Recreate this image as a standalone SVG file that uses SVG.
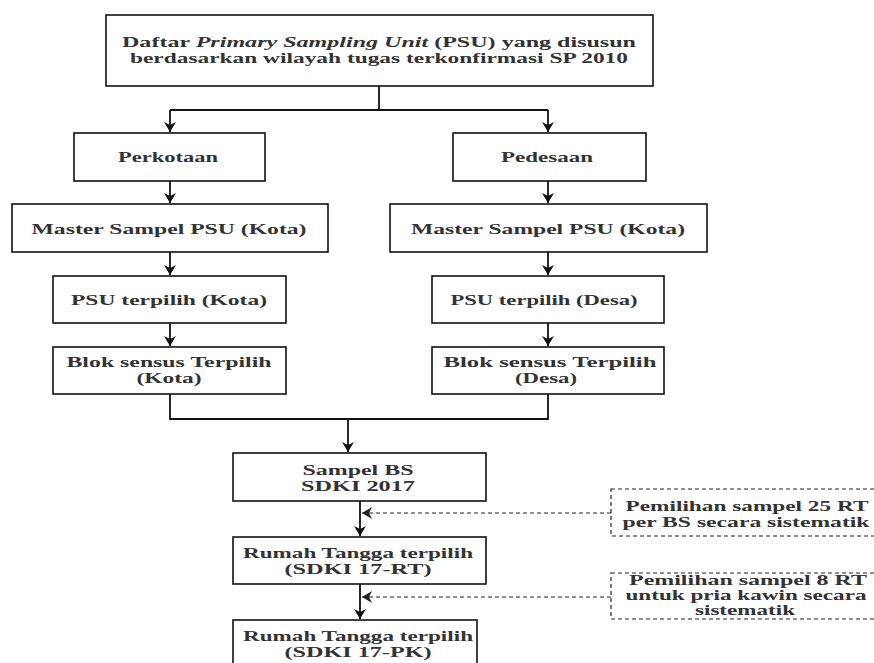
<svg xmlns="http://www.w3.org/2000/svg" width="874" height="663" viewBox="0 0 874 663">
<style>
.box{fill:#fff;stroke:#111;stroke-width:1.6}
.dbox{fill:#fff;stroke:#222;stroke-width:1.2;stroke-dasharray:4 3}
.t{font-family:"Liberation Serif","Times New Roman",serif;font-size:15px;font-weight:bold;fill:#333;text-anchor:middle}
.ln{fill:none;stroke:#111;stroke-width:1.8}
.dl{fill:none;stroke:#222;stroke-width:1.2;stroke-dasharray:4 3}
</style>
<defs>
<marker id="ah" markerWidth="12" markerHeight="12" refX="10" refY="6" orient="auto" markerUnits="userSpaceOnUse">
<path d="M0,0 L10,6 L0,12 L3,6 Z" fill="#111"/>
</marker>
<marker id="dah" markerWidth="12" markerHeight="12" refX="10" refY="6" orient="auto" markerUnits="userSpaceOnUse">
<path d="M0,0 L10,6 L0,12 L3,6 Z" fill="#222"/>
</marker>
</defs>
<rect width="874" height="663" fill="#fff"/>
<g id="connectors">
<path class="ln" d="M379,86 V110 M170,110 H548"/>
<path class="ln" d="M170,110 V132" marker-end="url(#ah)"/>
<path class="ln" d="M548,110 V132" marker-end="url(#ah)"/>
<path class="ln" d="M170,181 V203" marker-end="url(#ah)"/>
<path class="ln" d="M548,181 V203" marker-end="url(#ah)"/>
<path class="ln" d="M170,252 V275" marker-end="url(#ah)"/>
<path class="ln" d="M548,252 V275" marker-end="url(#ah)"/>
<path class="ln" d="M170,323 V346" marker-end="url(#ah)"/>
<path class="ln" d="M548,323 V346" marker-end="url(#ah)"/>
<path class="ln" d="M170,394 V419 H548 V394"/>
<path class="ln" d="M348,419 V452" marker-end="url(#ah)"/>
<path class="ln" d="M360,501 V536" marker-end="url(#ah)"/>
<path class="ln" d="M360,584 V619" marker-end="url(#ah)"/>
<path class="dl" d="M611,513 H362" marker-end="url(#dah)"/>
<path class="dl" d="M611,597 H362" marker-end="url(#dah)"/>
</g>
<g id="n-psu-list">
<rect class="box" x="106" y="15" width="547" height="71"/>
<text class="t" x="379" y="47" textLength="514" lengthAdjust="spacingAndGlyphs">Daftar <tspan font-style="italic">Primary Sampling Unit</tspan> (PSU) yang disusun</text>
<text class="t" x="379" y="63" textLength="498" lengthAdjust="spacingAndGlyphs">berdasarkan wilayah tugas terkonfirmasi SP 2010</text>
</g>
<g id="n-perkotaan">
<rect class="box" x="74" y="133" width="191" height="48"/>
<text class="t" x="168" y="162" textLength="100" lengthAdjust="spacingAndGlyphs">Perkotaan</text>
</g>
<g id="n-pedesaan">
<rect class="box" x="453" y="133" width="193" height="48"/>
<text class="t" x="547" y="162" textLength="92" lengthAdjust="spacingAndGlyphs">Pedesaan</text>
</g>
<g id="n-master-kota">
<rect class="box" x="12" y="204" width="316" height="48"/>
<text class="t" x="169" y="234" textLength="275" lengthAdjust="spacingAndGlyphs">Master Sampel PSU (Kota)</text>
</g>
<g id="n-master-desa">
<rect class="box" x="390" y="204" width="317" height="48"/>
<text class="t" x="548" y="234" textLength="274" lengthAdjust="spacingAndGlyphs">Master Sampel PSU (Kota)</text>
</g>
<g id="n-psu-kota">
<rect class="box" x="53" y="276" width="233" height="47"/>
<text class="t" x="169" y="305" textLength="196" lengthAdjust="spacingAndGlyphs">PSU terpilih (Kota)</text>
</g>
<g id="n-psu-desa">
<rect class="box" x="432" y="276" width="232" height="47"/>
<text class="t" x="544" y="305" textLength="187" lengthAdjust="spacingAndGlyphs">PSU terpilih (Desa)</text>
</g>
<g id="n-blok-kota">
<rect class="box" x="53" y="347" width="233" height="47"/>
<text class="t" x="169" y="367" textLength="205" lengthAdjust="spacingAndGlyphs">Blok sensus Terpilih</text>
<text class="t" x="169" y="383" textLength="65" lengthAdjust="spacingAndGlyphs">(Kota)</text>
</g>
<g id="n-blok-desa">
<rect class="box" x="432" y="347" width="232" height="47"/>
<text class="t" x="550" y="367" textLength="213" lengthAdjust="spacingAndGlyphs">Blok sensus Terpilih</text>
<text class="t" x="546" y="383" textLength="62" lengthAdjust="spacingAndGlyphs">(Desa)</text>
</g>
<g id="n-sampel-bs">
<rect class="box" x="233" y="453" width="253" height="48"/>
<text class="t" x="358" y="475" textLength="111" lengthAdjust="spacingAndGlyphs">Sampel BS</text>
<text class="t" x="358" y="491" textLength="114" lengthAdjust="spacingAndGlyphs">SDKI 2017</text>
</g>
<g id="n-rt">
<rect class="box" x="233" y="537" width="253" height="47"/>
<text class="t" x="358" y="558" textLength="230" lengthAdjust="spacingAndGlyphs">Rumah Tangga terpilih</text>
<text class="t" x="358" y="574" textLength="147" lengthAdjust="spacingAndGlyphs">(SDKI 17-RT)</text>
</g>
<g id="n-pk">
<rect class="box" x="233" y="620" width="244" height="60"/>
<text class="t" x="358" y="641" textLength="230" lengthAdjust="spacingAndGlyphs">Rumah Tangga terpilih</text>
<text class="t" x="358" y="657" textLength="147" lengthAdjust="spacingAndGlyphs">(SDKI 17-PK)</text>
</g>
<g id="n-note-25">
<rect class="dbox" x="611" y="489" width="280" height="47"/>
<text class="t" x="747" y="511" textLength="243" lengthAdjust="spacingAndGlyphs">Pemilihan sampel 25 RT</text>
<text class="t" x="746" y="527" textLength="247" lengthAdjust="spacingAndGlyphs">per BS secara sistematik</text>
</g>
<g id="n-note-8">
<rect class="dbox" x="611" y="573" width="280" height="46"/>
<text class="t" x="748" y="585" textLength="238" lengthAdjust="spacingAndGlyphs">Pemilihan sampel 8 RT</text>
<text class="t" x="746" y="600" textLength="241" lengthAdjust="spacingAndGlyphs">untuk pria kawin secara</text>
<text class="t" x="745" y="615" textLength="100" lengthAdjust="spacingAndGlyphs">sistematik</text>
</g>
</svg>
